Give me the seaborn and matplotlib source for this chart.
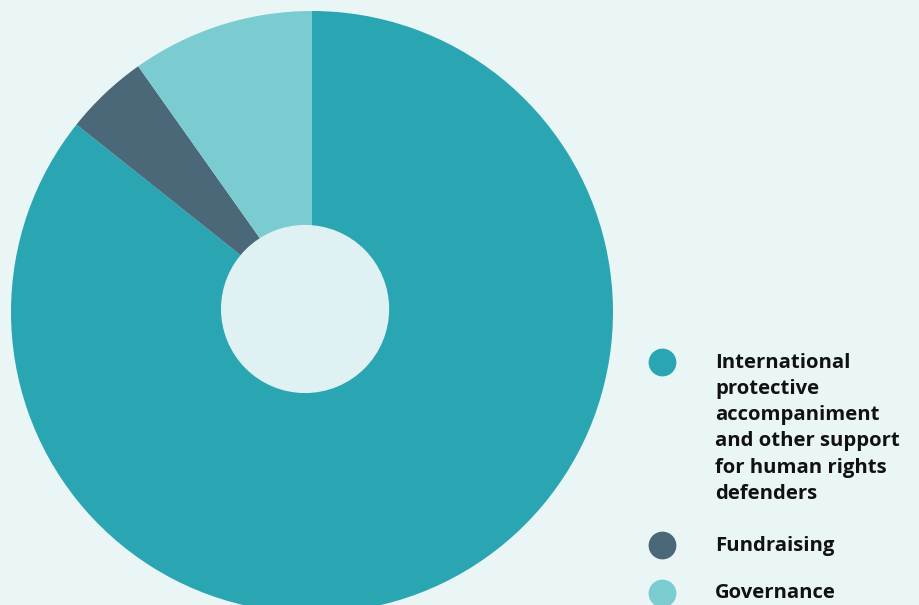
import matplotlib
matplotlib.use("Agg")
import matplotlib.pyplot as plt
import seaborn as sns

categories = [
    "International\nprotective\naccompaniment\nand other support\nfor human rights\ndefenders",
    "Fundraising",
    "Governance",
]
shares = [85.7, 4.5, 9.8]
colors = ["#2aa6b2", "#4a6878", "#7accd0"]

bg = "#eaf5f6"
hole_color = "#e0f1f4"

sns.set_theme(style="white")
plt.rcParams["font.family"] = ["Open Sans", "DejaVu Sans"]

fig = plt.figure(figsize=(9.2, 6.05), dpi=100)
fig.patch.set_facecolor(bg)

# pie axes, bottom of the pie runs a little off the canvas
ax = fig.add_axes([11 / 920, -8 / 605, 602 / 920, 602 / 605])
ax.set_facecolor(bg)
ax.pie(shares, colors=colors, startangle=90, counterclock=False,
       radius=1.0, wedgeprops=dict(linewidth=0))
ax.add_patch(plt.Circle((-0.023, 0.01), 0.277, color=hole_color, zorder=3))
ax.set_xlim(-1, 1)
ax.set_ylim(-1, 1)
ax.set_aspect("equal")
ax.axis("off")

# legend drawn by hand so each dot sits on the first line of its label
leg = fig.add_axes([0, 0, 1, 1])
leg.set_xlim(0, 920)
leg.set_ylim(605, 0)
leg.axis("off")
leg.patch.set_alpha(0)
label_y = [362, 545, 593]
for cat, col, y in zip(categories, colors, label_y):
    leg.scatter([662], [y], s=400, color=col, linewidths=0)
    # first line centred on the dot
    leg.text(715, y - 9.5, cat, fontsize=14.6, fontweight="bold", color="#111111",
             va="top", ha="left", linespacing=1.42)

fig.savefig("out.png", dpi=100, facecolor=bg)
